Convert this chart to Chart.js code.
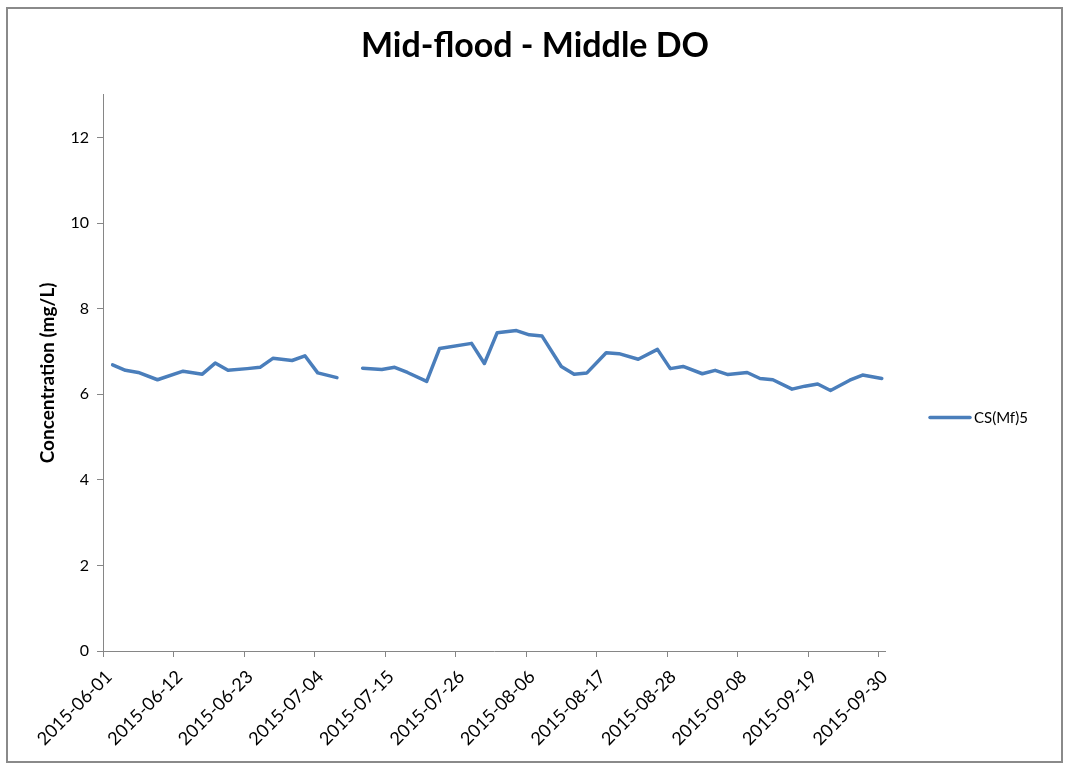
<!DOCTYPE html>
<html>
<head>
<meta charset="utf-8">
<title>Mid-flood - Middle DO</title>
<script src="https://cdn.jsdelivr.net/npm/chart.js@4.4.1/dist/chart.umd.min.js"></script>
<style>
  html, body { margin: 0; padding: 0; background: #ffffff; }
  #frame {
    position: absolute;
    left: 6px; top: 7px;
    width: 1053px; height: 752px;
    border: 2px solid #8a8a8a;
    background: #ffffff;
  }
  #chart { display: block; }
</style>
</head>
<body>
<div id="frame"><canvas id="chart" width="1053" height="752"></canvas></div>
<script>
// Sampling dates (a blank row on 2015-07-09 breaks the line)
const sampleDates = [
  '2015-06-02','2015-06-04','2015-06-06','2015-06-09','2015-06-13','2015-06-16',
  '2015-06-18','2015-06-20','2015-06-23','2015-06-25','2015-06-27','2015-06-30',
  '2015-07-02','2015-07-04','2015-07-07','2015-07-09','2015-07-11','2015-07-14',
  '2015-07-16','2015-07-18','2015-07-21','2015-07-23','2015-07-28','2015-07-30',
  '2015-08-01','2015-08-04','2015-08-06','2015-08-08','2015-08-11','2015-08-13',
  '2015-08-15','2015-08-18','2015-08-20','2015-08-23','2015-08-26','2015-08-28',
  '2015-08-30','2015-09-02','2015-09-04','2015-09-06','2015-09-09','2015-09-11',
  '2015-09-13','2015-09-16','2015-09-18','2015-09-20','2015-09-22','2015-09-25',
  '2015-09-27','2015-09-30'
];

// Dissolved oxygen, CS(Mf)5, mg/L
const doValues = [
  6.69, 6.56, 6.51, 6.34, 6.54, 6.47,
  6.73, 6.56, 6.60, 6.63, 6.84, 6.79,
  6.90, 6.50, 6.39, null, 6.61, 6.58,
  6.63, 6.51, 6.30, 7.07, 7.19, 6.72,
  7.44, 7.49, 7.39, 7.36, 6.65, 6.47,
  6.50, 6.97, 6.95, 6.82, 7.05, 6.60,
  6.65, 6.48, 6.56, 6.46, 6.51, 6.37,
  6.34, 6.12, 6.19, 6.24, 6.09, 6.33,
  6.45, 6.37
];

const seriesName = 'CS(Mf)5';

// Date axis labels
const xTickLabels = [
  '2015-06-01','2015-06-12','2015-06-23','2015-07-04','2015-07-15','2015-07-26',
  '2015-08-06','2015-08-17','2015-08-28','2015-09-08','2015-09-19','2015-09-30'
];
const axisStart = '2015-06-01';
const axisEnd = '2015-10-01';

// Value axis
const yMin = 0, yMax = 13, yStep = 2;

const FONT = 'Lato, "Open Sans", "Liberation Sans", sans-serif';

function dayIndex(s) {
  const [y, m, d] = s.split('-').map(Number);
  const [y0, m0, d0] = axisStart.split('-').map(Number);
  return Math.round((Date.UTC(y, m - 1, d) - Date.UTC(y0, m0 - 1, d0)) / 86400000);
}

// each day occupies one slot; a sample sits in the middle of its day
const points = sampleDates.map((s, i) => ({ x: dayIndex(s) + 0.5, y: doValues[i] }));
const tickValues = xTickLabels.map(dayIndex);

const lineColor = '#4a7ebb';
const axisColor = '#868686';

// Legend as its own layout box on the right, so the title stays centred on the whole chart
const sideLegend = {
  id: 'sideLegend',
  beforeInit(chart) {
    const box = {
      position: 'right',
      weight: 1000,
      fullSize: false,
      options: {},
      left: 0, top: 0, right: 0, bottom: 0, width: 0, height: 0,
      isHorizontal() { return false; },
      update(maxWidth, maxHeight) {
        this.width = 153;
        this.height = maxHeight;
      },
      draw() {
        const ds = chart.data.datasets[0];
        const ctx = chart.ctx;
        const area = chart.chartArea;
        const x0 = this.left + 45;
        const y0 = area.top + (area.bottom - area.top) * 0.58;
        ctx.save();
        ctx.strokeStyle = ds.borderColor;
        ctx.lineWidth = ds.borderWidth;
        ctx.lineCap = 'round';
        ctx.beginPath();
        ctx.moveTo(x0, y0);
        ctx.lineTo(x0 + 40, y0);
        ctx.stroke();
        ctx.fillStyle = '#000000';
        ctx.font = '15px ' + FONT;
        ctx.textBaseline = 'middle';
        ctx.textAlign = 'left';
        ctx.fillText(ds.label, x0 + 44, y0 + 1);
        ctx.restore();
      }
    };
    Chart.layouts.addBox(chart, box);
  }
};

new Chart(document.getElementById('chart'), {
  type: 'line',
  data: {
    datasets: [{
      label: seriesName,
      data: points,
      borderColor: lineColor,
      backgroundColor: lineColor,
      borderWidth: 3.5,
      pointRadius: 0,
      pointHoverRadius: 0,
      tension: 0,
      spanGaps: false,
      borderJoinStyle: 'round',
      borderCapStyle: 'round'
    }]
  },
  options: {
    responsive: false,
    animation: false,
    layout: { padding: { left: 24, right: 23, top: 0, bottom: 12 } },
    plugins: {
      legend: { display: false },
      tooltip: { enabled: false },
      title: {
        display: true,
        text: 'Mid-flood - Middle DO',
        color: '#000000',
        font: { family: FONT, size: 34, weight: 'bold', lineHeight: 1.2 },
        padding: { top: 17, bottom: 28 }
      }
    },
    scales: {
      x: {
        type: 'linear',
        min: dayIndex(axisStart),
        max: dayIndex(axisEnd),
        afterBuildTicks(scale) {
          scale.ticks = tickValues.map(v => ({ value: v }));
        },
        afterFit(scale) { scale.height = 98; },
        grid: {
          drawOnChartArea: false,
          drawTicks: true,
          tickLength: 6,
          color: axisColor
        },
        border: { display: true, color: axisColor, width: 1 },
        ticks: {
          autoSkip: false,
          maxRotation: 45,
          minRotation: 45,
          padding: 9,
          labelOffset: 6,
          color: '#000000',
          font: { family: FONT, size: 18 },
          callback(value) {
            const i = tickValues.indexOf(value);
            return i >= 0 ? xTickLabels[i] : '';
          }
        }
      },
      y: {
        min: yMin,
        max: yMax,
        afterFit(scale) { scale.width = 71; },
        grid: {
          drawOnChartArea: false,
          drawTicks: true,
          tickLength: 6,
          color: axisColor
        },
        border: { display: true, color: axisColor, width: 1 },
        ticks: {
          stepSize: yStep,
          includeBounds: false,
          padding: 8,
          color: '#000000',
          font: { family: FONT, size: 16 }
        },
        title: {
          display: true,
          text: 'Concentration (mg/L)',
          color: '#000000',
          font: { family: FONT, size: 19, weight: 'bold' },
          padding: { top: 4, bottom: 2 }
        }
      }
    }
  },
  plugins: [sideLegend]
});
</script>
</body>
</html>
